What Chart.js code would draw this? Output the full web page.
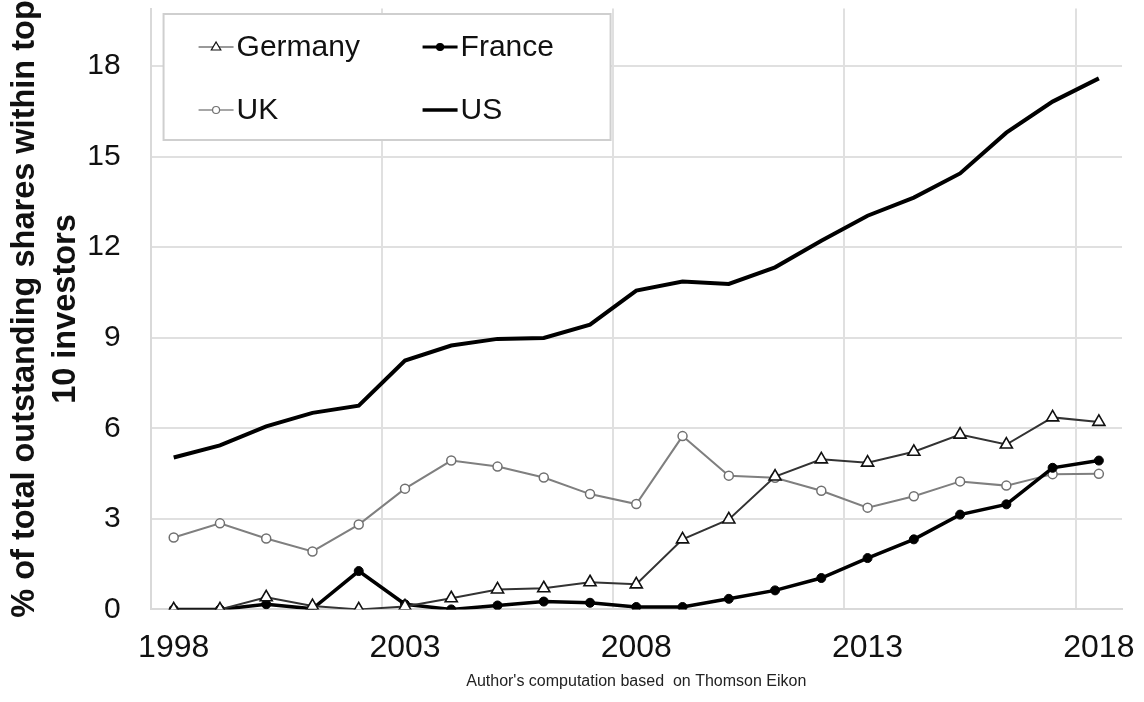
<!DOCTYPE html>
<html>
<head>
<meta charset="utf-8">
<script src="https://cdn.jsdelivr.net/npm/chart.js@4.4.0/dist/chart.umd.min.js"></script>
<style>
html,body{margin:0;padding:0;background:#fff;}
#wrap{width:1144px;height:702px;}
</style>
</head>
<body>
<div id="wrap"><canvas id="c" width="1144" height="702"></canvas></div>
<script>
// ---- data ----
const years = ['1998','1999','2000','2001','2002','2003','2004','2005','2006','2007','2008',
               '2009','2010','2011','2012','2013','2014','2015','2016','2017','2018'];
const germany = [0, 0, 0.40, 0.11, 0, 0.10, 0.37, 0.66, 0.70, 0.90, 0.83,
                 2.32, 2.98, 4.40, 4.97, 4.86, 5.22, 5.79, 5.46, 6.36, 6.21];
const uk      = [2.38, 2.85, 2.35, 1.92, 2.81, 4.00, 4.93, 4.73, 4.37, 3.82, 3.49,
                 5.74, 4.43, 4.36, 3.93, 3.37, 3.75, 4.24, 4.10, 4.48, 4.49];
const france  = [0, 0, 0.17, 0.02, 1.27, 0.17, 0.00, 0.13, 0.26, 0.22, 0.08,
                 0.08, 0.35, 0.63, 1.04, 1.70, 2.32, 3.14, 3.48, 4.69, 4.93];
const us      = [5.03, 5.43, 6.06, 6.51, 6.75, 8.24, 8.74, 8.96, 8.99, 9.43, 10.56,
                 10.86, 10.78, 11.33, 12.21, 13.04, 13.64, 14.44, 15.79, 16.82, 17.59];
const yTickValues = [0, 3, 6, 9, 12, 15, 18];
const xTickLabels = ['1998', '2003', '2008', '2013', '2018'];
const yTitle = ['% of total outstanding shares within top', '10 investors'];
const sourceNote = "Author's computation based  on Thomson Eikon";

const FONT = "'Liberation Sans', Arial, Helvetica, sans-serif";

// legend drawn as a boxed 2x2 grid inside the plot (rows of dataset indices)
const legendRows = [[0, 2], [1, 3]];

const boxLegend = {
  id: 'boxLegend',
  afterDraw(chart) {
    const {ctx, chartArea} = chart;
    const x0 = chartArea.left + 13, y0 = 14, w = 447, h = 126;
    ctx.save();
    ctx.fillStyle = '#ffffff';
    ctx.fillRect(x0, y0, w, h);
    ctx.strokeStyle = '#cfcfcf';
    ctx.lineWidth = 2;
    ctx.strokeRect(x0, y0, w, h);
    const colX = [x0 + 35, x0 + 259];
    const rowY = [y0 + 33, y0 + 96];
    legendRows.forEach((row, r) => {
      row.forEach((di, c) => {
        const ds = chart.data.datasets[di];
        const lx = colX[c], ly = rowY[r], len = 35;
        ctx.strokeStyle = ds.legendLineColor || ds.borderColor;
        ctx.lineWidth = ds.legendLineWidth || ds.borderWidth;
        ctx.beginPath();
        ctx.moveTo(lx, ly); ctx.lineTo(lx + len, ly);
        ctx.stroke();
        const cx = lx + len / 2;
        if (ds.pointRadius > 0) {
          const rr = ds.legendPointRadius;
          ctx.fillStyle = ds.pointBackgroundColor;
          ctx.strokeStyle = ds.pointBorderColor;
          ctx.lineWidth = 1.2;
          ctx.beginPath();
          if (ds.pointStyle === 'triangle') {
            ctx.moveTo(cx, ly - rr);
            ctx.lineTo(cx + rr * 0.95, ly + rr * 0.6);
            ctx.lineTo(cx - rr * 0.95, ly + rr * 0.6);
            ctx.closePath();
          } else {
            ctx.arc(cx, ly, rr, 0, Math.PI * 2);
          }
          ctx.fill();
          ctx.stroke();
        }
        ctx.fillStyle = '#111';
        ctx.font = '30px ' + FONT;
        ctx.textBaseline = 'middle';
        ctx.textAlign = 'left';
        ctx.fillText(ds.label, lx + len + 3, ly + 1);
      });
    });
    ctx.restore();
  }
};

new Chart(document.getElementById('c'), {
  type: 'line',
  data: {
    labels: years,
    datasets: [
      {
        label: 'Germany', data: germany, order: 1,
        borderColor: '#333333', borderWidth: 2,
        pointStyle: 'triangle', pointRadius: 7, pointBorderWidth: 1.6,
        pointBackgroundColor: '#ffffff', pointBorderColor: '#111111',
        legendLineColor: '#777777', legendLineWidth: 1.5, legendPointRadius: 5
      },
      {
        label: 'UK', data: uk, order: 4,
        borderColor: '#7f7f7f', borderWidth: 2,
        pointStyle: 'circle', pointRadius: 4.5, pointBorderWidth: 1.5,
        pointBackgroundColor: '#ffffff', pointBorderColor: '#707070',
        legendLineColor: '#8a8a8a', legendLineWidth: 1.5, legendPointRadius: 3.5
      },
      {
        label: 'France', data: france, order: 2,
        borderColor: '#000000', borderWidth: 3.5,
        pointStyle: 'circle', pointRadius: 4.5, pointBorderWidth: 1,
        pointBackgroundColor: '#000000', pointBorderColor: '#000000',
        legendLineColor: '#000000', legendLineWidth: 3, legendPointRadius: 3.5
      },
      {
        label: 'US', data: us, order: 3,
        borderColor: '#000000', borderWidth: 4,
        pointRadius: 0,
        legendLineColor: '#000000', legendLineWidth: 3.5
      }
    ]
  },
  options: {
    responsive: false,
    animation: false,
    devicePixelRatio: 1,
    layout: { padding: { left: 0, right: 22, top: 0, bottom: 0 } },
    elements: { line: { tension: 0 } },
    plugins: {
      legend: { display: false },
      tooltip: { enabled: false }
    },
    scales: {
      x: {
        type: 'category',
        offset: true,
        grid: {
          offset: true,
          drawTicks: true,
          tickLength: 20,
          tickColor: 'rgba(0,0,0,0)',
          lineWidth: 2,
          color: (ctx) => {
            const t = ctx.index;
            return (t < years.length && xTickLabels.includes(years[t])) ? '#e0e0e0' : 'rgba(0,0,0,0)';
          }
        },
        border: { color: '#d9d9d9', width: 2 },
        ticks: {
          autoSkip: false,
          maxRotation: 0,
          minRotation: 0,
          padding: 0,
          color: '#111',
          font: { family: FONT, size: 32 },
          callback: (v, i) => xTickLabels.includes(years[i]) ? years[i] : ''
        },
        title: {
          display: true,
          text: sourceNote,
          color: '#222',
          font: { family: FONT, size: 16 },
          padding: { top: 4, bottom: 11 }
        }
      },
      y: {
        min: 0,
        max: 19.9,
        afterBuildTicks: (axis) => { axis.ticks = yTickValues.map(v => ({ value: v })); },
        grid: {
          color: '#e0e0e0',
          lineWidth: 2,
          drawTicks: true,
          tickLength: 30,
          tickColor: 'rgba(0,0,0,0)'
        },
        border: { color: '#d9d9d9', width: 2 },
        ticks: {
          padding: 0,
          color: '#111',
          font: { family: FONT, size: 30, lineHeight: 0.2 }
        },
        title: {
          display: true,
          text: yTitle,
          color: '#111',
          font: { family: FONT, size: 32.5, weight: 'bold', lineHeight: 1.28 },
          padding: { top: 4, bottom: 0 }
        }
      }
    }
  },
  plugins: [boxLegend]
});
</script>
</body>
</html>
